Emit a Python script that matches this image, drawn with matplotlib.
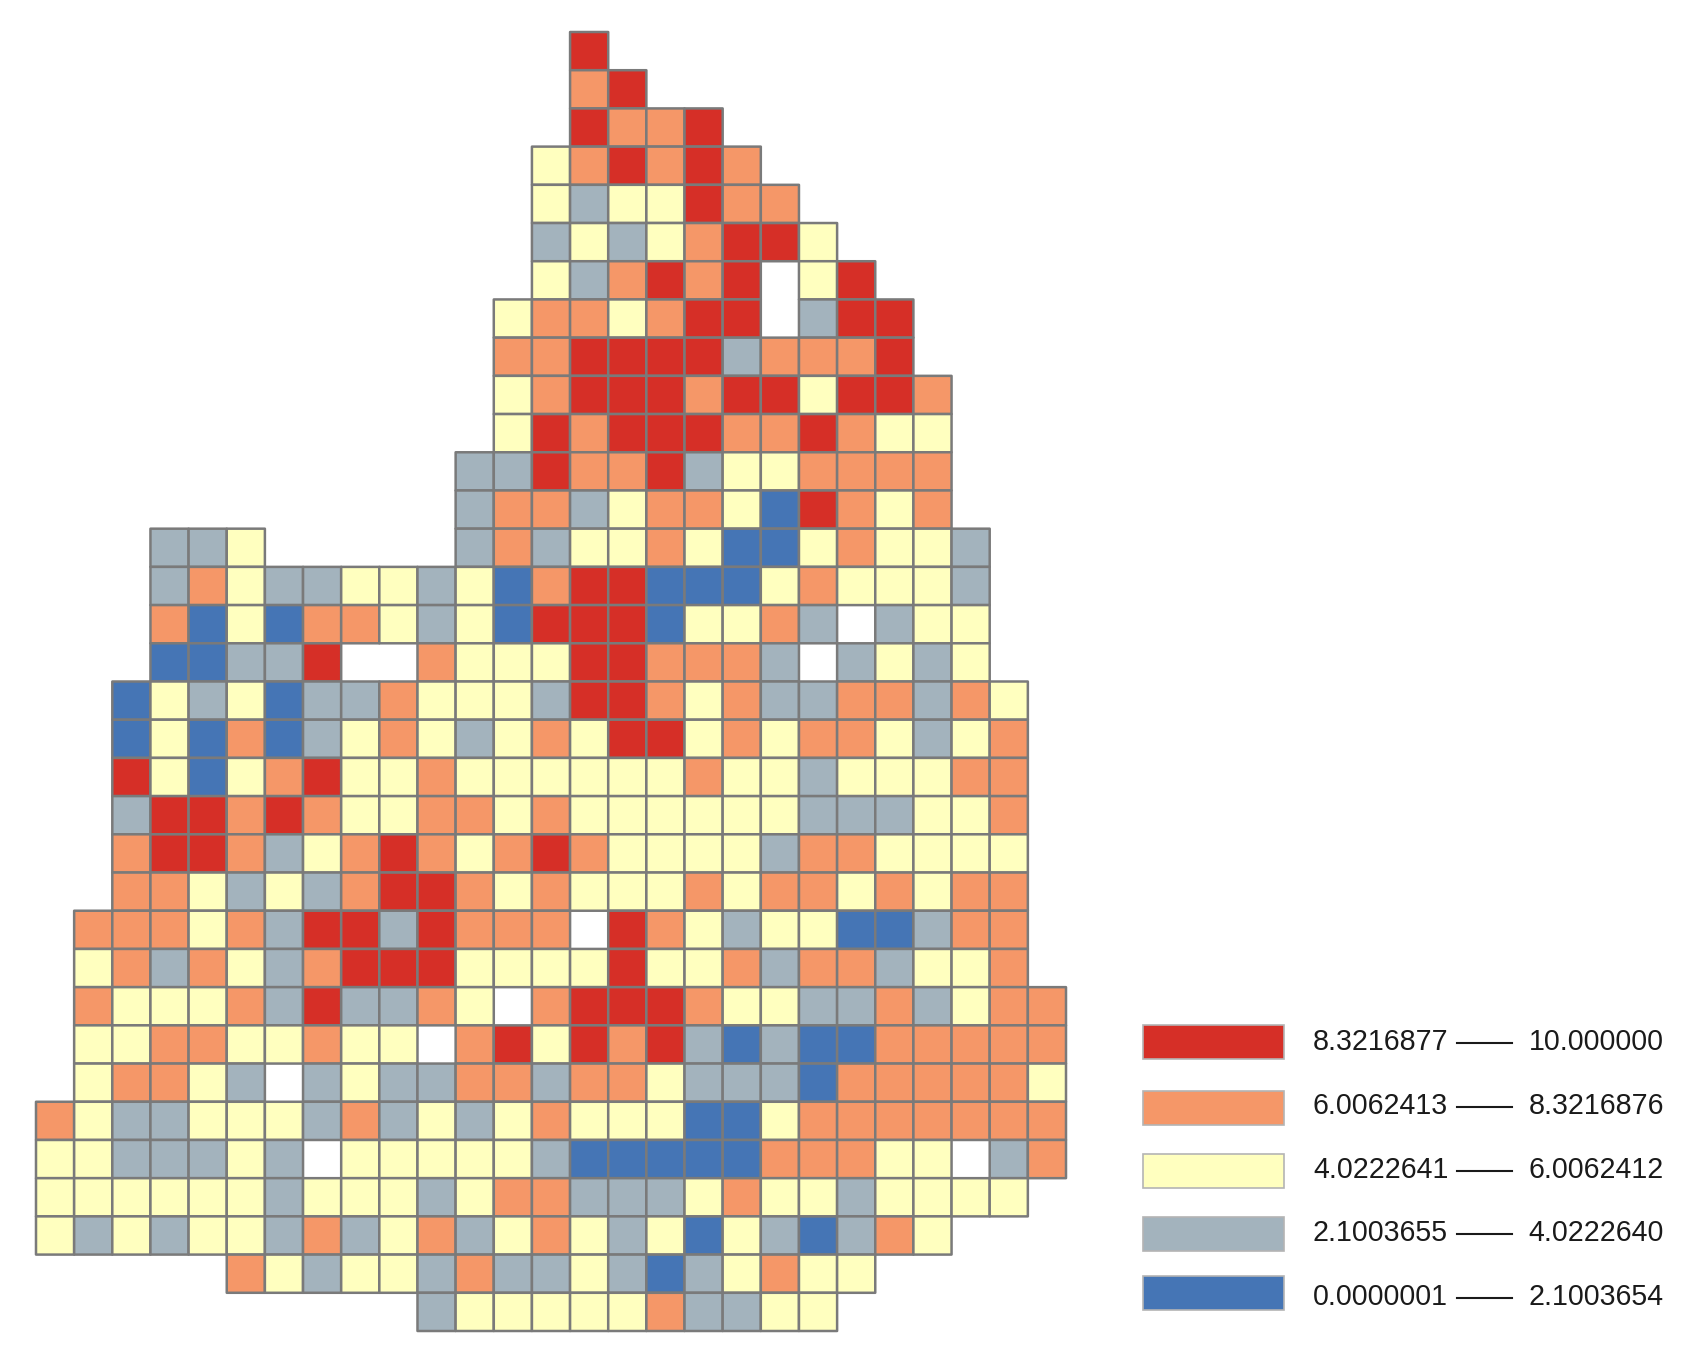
import numpy as np
import matplotlib
matplotlib.use('Agg')
import matplotlib.pyplot as plt
from matplotlib.colors import ListedColormap
from matplotlib.patches import Rectangle

plt.rcParams['font.family'] = ['Liberation Sans', 'DejaVu Sans']

# class of every grid cell, north to south. B G Y O R = low to high, W = no data, . = outside
row_start = [14, 14, 14, 13, 13, 13, 13, 12, 12, 12, 12, 11, 11, 3, 3, 3, 3,
             2, 2, 2, 2, 2, 2, 1, 1, 1, 1, 1, 0, 0, 0, 0, 5, 10]
row_cells = [
    "R", "OR", "ROOR", "YORORO", "YGYYROO", "GYGYORRY", "YGORORWYR",
    "YOOYORRWGRR", "OORRRRGOOOR", "YORRRORRYRRO", "YRORRROOROYY",
    "GGROORGYYOOOO", "GOOGYOOYBROYO", "GGY.....GOGYYOYBBYOYYG",
    "GOYGGYYGYBORRBBBYOYYYG", "OBYBOOYGYBRRRBYYOGWGYY",
    "BBGGRWWOYYYRROOOGWGYGY", "BYGYBGGOYYYGRROYOGGOOGOY",
    "BYBOBGYOYGYOYRRYOYOOYGYO", "RYBYORYYOYYYYYYOYYGYYYOO",
    "GRROROYYOOYOYYYYYYGGGYYO", "ORROGYOROYOROYYYYGOOYYYY",
    "OOYGYGORROYOYYYOYOOYOYOO", "OOOYOGRRGROOOWROYGYYBBGOO",
    "YOGOYGORRRYYYYRYYOGOOGYYO", "OYYYOGRGGOYWORRROYYGGOGYOO",
    "YYOOYYOYYWORYRORGBGBBOOOOO", "YOOYGWGYGGOOGOOYGGGBOOOOOY",
    "OYGGYYYGOGYGYOYYYBBYOOOOOOO", "YYGGGYGWYYYYYGBBBBBOOOYYWGO",
    "YYYYYYGYYYGYOOGGGYOYYGYYYY", "YGYGYYGOGYOGYOYGYBYGBGOY",
    "OYGYYGOGGYGBGYOYY", "GYYYYYOGGYY",
]
n_cols = 27

class_codes = ["B", "G", "Y", "O", "R"]
class_colors = ["#4575b5", "#a3b3bd", "#ffffbf", "#f59768", "#d62f27"]
class_low = ["0.0000001", "2.1003655", "4.0222641", "6.0062413", "8.3216877"]
class_high = ["2.1003654", "4.0222640", "6.0062412", "8.3216876", "10.000000"]

W, H = 1686, 1364
fig = plt.figure(figsize=(W / 100, H / 100), dpi=100, facecolor='white')

grid = np.full((len(row_cells), n_cols), np.nan)
for r, cells in enumerate(row_cells):
    for k, c in enumerate(cells):
        if c in class_codes:
            grid[r, row_start[r] + k] = class_codes.index(c)

# map area in pixels
left, right, top, bottom = 36, 1066, 32, 1331
ax = fig.add_axes([left / W, 1 - bottom / H, (right - left) / W, (bottom - top) / H])
# pcolor drops the masked cells, pcolormesh would still outline them
mesh = ax.pcolor(np.arange(n_cols + 1), np.arange(len(row_cells) + 1), np.ma.masked_invalid(grid),
                 cmap=ListedColormap(class_colors), vmin=-0.5, vmax=4.5,
                 edgecolors='#7a7a7a', linewidth=1.8)
mesh.set_clip_on(False)
ax.set_xlim(0, n_cols)
ax.set_ylim(len(row_cells), 0)
ax.axis('off')

# legend, highest class on top
lg = fig.add_axes([0, 0, 1, 1])
lg.set_xlim(0, W)
lg.set_ylim(H, 0)
lg.axis('off')
lg.patch.set_alpha(0)
patch_y = [1042, 1107.5, 1171, 1233.5, 1292.5]
text_y = [1042, 1106, 1170, 1233, 1297]
for i in range(5):
    k = 4 - i
    lg.add_patch(Rectangle((1143, patch_y[i] - 17), 141, 34, facecolor=class_colors[k],
                           edgecolor='#b4b4b4', linewidth=1.2))
    lg.text(1313, text_y[i], class_low[k], fontsize=20.6, ha='left', va='center', color='#1a1a1a')
    lg.plot([1457, 1512], [text_y[i] + 1, text_y[i] + 1], color='#1a1a1a', linewidth=1.5)
    lg.text(1664, text_y[i], class_high[k], fontsize=20.6, ha='right', va='center', color='#1a1a1a')

fig.savefig('out.png', dpi=100)
